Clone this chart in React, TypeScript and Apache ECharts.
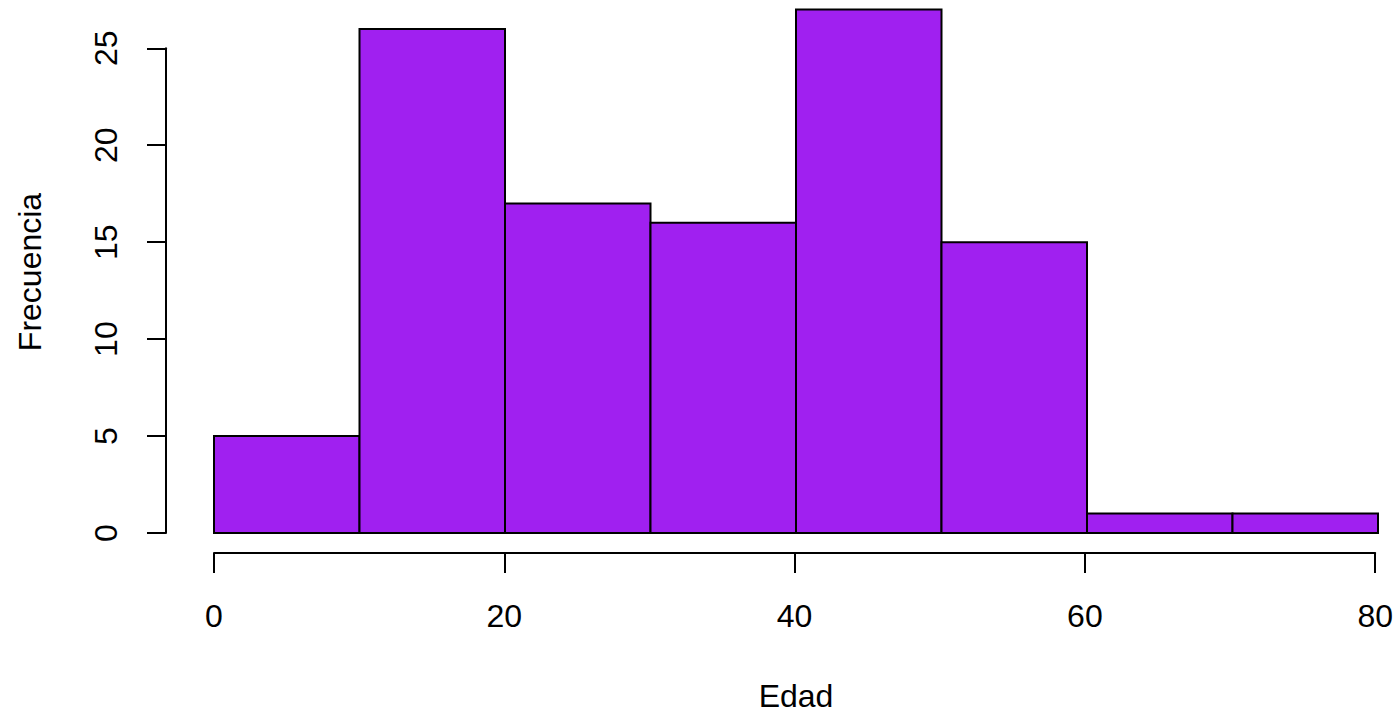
import React, { useEffect, useRef } from "react";
import * as echarts from "echarts";

const binStarts = [0, 10, 20, 30, 40, 50, 60, 70];
const binEnds = [10, 20, 30, 40, 50, 60, 70, 80];
const counts = [5, 26, 17, 16, 27, 15, 1, 1];
const xTicks = [0, 20, 40, 60, 80];
const yTicks = [0, 5, 10, 15, 20, 25];

const FONT = "'Liberation Sans', Arial, Helvetica, sans-serif";

export default function App() {
  const ref = useRef<HTMLDivElement>(null);
  useEffect(() => {
    if (!ref.current) return;
    const chart = echarts.init(ref.current, null, { renderer: "svg" });
    const data = binStarts.map((s, i) => [s, binEnds[i], counts[i]]);
    const option = {
      animation: false,
      backgroundColor: "#ffffff",
      textStyle: { fontFamily: FONT },
      grid: [
        { left: 214, right: 18, top: 9.5, bottom: 180 },
        { left: 166, width: 1, top: 48.3, bottom: 180 },
        { left: 214, right: 18, bottom: 160, height: 1 },
      ],
      xAxis: [
        { gridIndex: 0, type: "value", min: 0, max: 80, show: false },
        { gridIndex: 1, type: "value", min: 0, max: 1, show: false },
        {
          gridIndex: 2,
          type: "value",
          min: xTicks[0],
          max: xTicks[xTicks.length - 1],
          interval: 20,
          position: "bottom",
          axisLine: { show: true, onZero: false, lineStyle: { color: "#000", width: 2 } },
          axisTick: { show: true, length: 20, lineStyle: { color: "#000", width: 2 } },
          axisLabel: { fontSize: 32, color: "#000", margin: 47, fontFamily: FONT },
          splitLine: { show: false },
        },
      ],
      yAxis: [
        { gridIndex: 0, type: "value", min: 0, max: 27, show: false },
        {
          gridIndex: 1,
          type: "value",
          min: yTicks[0],
          max: yTicks[yTicks.length - 1],
          interval: 5,
          position: "left",
          axisLine: { show: true, onZero: false, lineStyle: { color: "#000", width: 2 } },
          axisTick: { show: true, length: 19, lineStyle: { color: "#000", width: 2 } },
          axisLabel: { fontSize: 32, color: "#000", margin: 44, rotate: 90, fontFamily: FONT },
          splitLine: { show: false },
        },
        { gridIndex: 2, type: "value", min: 0, max: 1, show: false },
      ],
      series: [
        {
          type: "custom",
          xAxisIndex: 0,
          yAxisIndex: 0,
          data,
          renderItem: (params: any, api: any) => {
            const x0 = api.value(0);
            const x1 = api.value(1);
            const y = api.value(2);
            const p0 = api.coord([x0, y]);
            const p1 = api.coord([x1, 0]);
            return {
              type: "rect",
              shape: { x: p0[0], y: p0[1], width: p1[0] - p0[0], height: p1[1] - p0[1] },
              style: { fill: "#A020F0", stroke: "#000", lineWidth: 2 },
            };
          },
        },
      ],
      graphic: [
        {
          type: "text",
          x: 796,
          y: 696,
          style: {
            text: "Edad",
            font: `32px ${FONT}`,
            fill: "#000",
            textAlign: "center",
            textVerticalAlign: "middle",
          },
        },
        {
          type: "text",
          x: 30,
          y: 272,
          rotation: Math.PI / 2,
          style: {
            text: "Frecuencia",
            font: `32px ${FONT}`,
            fill: "#000",
            textAlign: "center",
            textVerticalAlign: "middle",
          },
        },
      ],
    };
    chart.setOption(option as any);
    return () => chart.dispose();
  }, []);
  return (
    <div
      ref={ref}
      style={{ position: "fixed", left: 0, top: 0, width: 1396, height: 713, background: "#fff" }}
    />
  );
}
